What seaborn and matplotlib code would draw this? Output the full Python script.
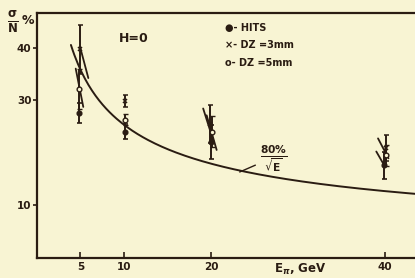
import numpy as np
import pandas as pd
import matplotlib
matplotlib.use("Agg")
import matplotlib.pyplot as plt
import seaborn as sns

# =========================
# Data
# =========================
energy = [5, 10, 20, 40]
hits = [27.5, 24.0, 22.0, 17.6]
hits_err = [1.9, 1.5, 3.2, 2.6]
dz3 = [39.7, 29.8, 25.5, 20.8]
dz3_err = [4.7, 1.2, 3.6, 2.5]
dz5 = [32.1, 26.3, 24.0, 19.5]
dz5_err = [3.8, 1.0, 3.0, 2.0]
# x offsets of the markers inside each cluster (GeV)
hits_dx = [-0.2, 0.1, 0.0, -0.1]
dz3_dx = [0.0, 0.1, -0.1, 0.1]
dz5_dx = [-0.2, 0.1, 0.1, 0.1]

# slanted strokes drawn through the clusters: E0, V0, E1, V1
slant_e0 = [4.94, 4.45, 19.1, 19.5, 39.2, 39.0]
slant_v0 = [40.2, 36.0, 28.4, 27.1, 22.7, 20.2]
slant_e1 = [5.90, 5.32, 20.3, 20.65, 40.4, 39.8]
slant_v1 = [34.2, 28.7, 22.1, 20.5, 18.9, 17.9]

# fitted curve 80%/sqrt(E) as labelled on the chart
curve_e = np.linspace(3.9, 44, 200)
curve_v = 80 / np.sqrt(curve_e)

x_ticks = [5, 10, 20, 40]
y_ticks = [10, 30, 40]

PAPER = "#f8f4d3"
INK = "#2a1c12"

# =========================
# Figure
# =========================
sns.set_theme(style="ticks")
plt.rcParams['font.family'] = ['DejaVu Sans']
plt.rcParams['font.weight'] = 'bold'

fig = plt.figure(figsize=(4.15, 2.78), dpi=100, facecolor=PAPER)
ax = fig.add_axes([37 / 415, 20.5 / 278, 378 / 415, 244.5 / 278])
ax.set_facecolor(PAPER)

df_curve = pd.DataFrame({'E': curve_e, 'V': curve_v})
sns.lineplot(data=df_curve, x='E', y='V', ax=ax, color=INK, lw=1.4)

for e0, v0, e1, v1 in zip(slant_e0, slant_v0, slant_e1, slant_v1):
    ax.plot([e0, e1], [v0, v1], color=INK, lw=1.3)

df = pd.DataFrame({'E': energy, 'hits': hits, 'hits_err': hits_err,
                   'dz3': dz3, 'dz3_err': dz3_err, 'dz5': dz5, 'dz5_err': dz5_err})
ax.errorbar(df['E'] + hits_dx, df['hits'], yerr=df['hits_err'], fmt='o', ms=3.4,
            color=INK, ecolor=INK, elinewidth=1.4, capsize=1.8, capthick=1.2)
ax.errorbar(df['E'] + dz3_dx, df['dz3'], yerr=df['dz3_err'], fmt='x', ms=3,
            mew=1.1, color=INK, ecolor=INK, elinewidth=1.4, capsize=1.8, capthick=1.2)
ax.errorbar(df['E'] + dz5_dx, df['dz5'], yerr=df['dz5_err'], fmt='o', ms=3.4,
            mfc=PAPER, mec=INK, mew=1.0, ecolor=INK, elinewidth=1.4, capsize=1.8, capthick=1.2)

ax.set_xlim(0, 43.45)
ax.set_ylim(0, 46.6)
ax.set_xticks(x_ticks)
ax.set_xticklabels([str(t) for t in x_ticks])
ax.set_yticks(y_ticks)
ax.set_yticklabels([str(t) for t in y_ticks])
ax.tick_params(axis='x', direction='in', length=4, width=1.2, colors=INK, labelsize=7.5, pad=3)
ax.tick_params(axis='y', direction='out', length=3, width=1.2, colors=INK, labelsize=7.5, pad=1)
ax.set_xlabel("")
ax.set_ylabel("")
for side in ['left', 'bottom', 'top']:
    ax.spines[side].set_color(INK)
    ax.spines[side].set_linewidth(1.6)
ax.spines['right'].set_visible(False)

# labels and annotations
fig.text(13 / 415, 1 - 22 / 278, r"$\mathbf{\frac{\sigma}{N}}$", color=INK, fontsize=12,
         ha='center', va='center', fontweight='bold')
fig.text(22 / 415, 1 - 20 / 278, "%", color=INK, fontsize=9,
         ha='left', va='center', fontweight='bold')
fig.text(300 / 415, 1 - 269 / 278, r"E$_\pi$, GeV", color=INK, fontsize=8.5,
         ha='center', va='center', fontweight='bold')
fig.text(134 / 415, 1 - 39 / 278, "H=0", color=INK, fontsize=9,
         ha='center', va='center', fontweight='bold')
fig.text(225 / 415, 1 - 28 / 278, "●- HITS", color=INK, fontsize=7,
         ha='left', va='center', fontweight='bold')
fig.text(225 / 415, 1 - 45 / 278, "×- DZ =3mm", color=INK, fontsize=7,
         ha='left', va='center', fontweight='bold')
fig.text(225 / 415, 1 - 63 / 278, "o- DZ =5mm", color=INK, fontsize=7,
         ha='left', va='center', fontweight='bold')
ax.text(27.2, 18.7, r"$\mathbf{\frac{80\%}{\sqrt{E}}}$", color=INK, fontsize=11,
        ha='center', va='center')
ax.plot([23.3, 25.1], [16.3, 17.6], color=INK, lw=1.0)

fig.savefig("out.png", dpi=100, facecolor=PAPER)
